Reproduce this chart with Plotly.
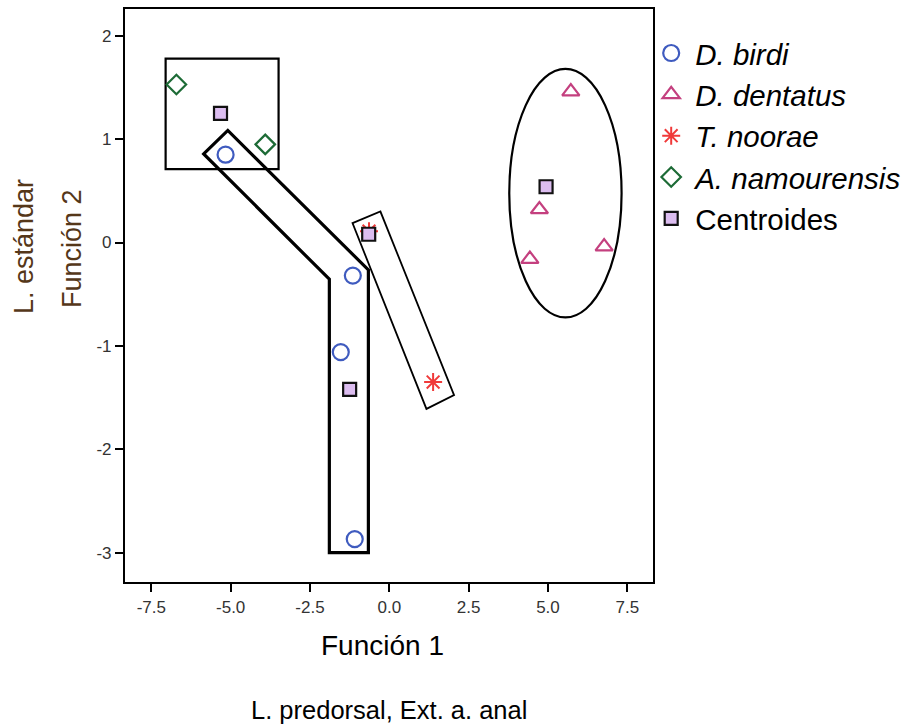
import plotly.graph_objects as go

# Discriminant scores (Función 1, Función 2) per group
birdi_x = [-5.16, -1.15, -1.53, -1.09]
birdi_y = [0.85, -0.32, -1.06, -2.87]

dentatus_x = [5.72, 4.73, 4.43, 6.77]
dentatus_y = [1.46, 0.32, -0.16, -0.04]

noorae_x = [1.38, -0.64]
noorae_y = [-1.35, 0.11]

namourensis_x = [-6.71, -3.91]
namourensis_y = [1.53, 0.95]

centroid_x = [-5.32, -0.65, 4.94, -1.25]
centroid_y = [1.25, 0.08, 0.54, -1.42]

# Outlines grouping the observations
box_x = [-7.05, -3.49]
box_y = [0.71, 1.78]

bent_x = [-5.85, -5.09, -0.66, -0.66, -1.89, -1.89]
bent_y = [0.857, 1.085, -0.265, -3.0, -3.0, -0.355]

strip_x = [-1.16, -0.28, 2.04, 1.17]
strip_y = [0.188, 0.30, -1.476, -1.61]

ellipse_x = [3.78, 7.32]
ellipse_y = [-0.725, 1.68]

x_ticks = [-7.5, -5.0, -2.5, 0.0, 2.5, 5.0, 7.5]
y_ticks = [-3, -2, -1, 0, 1, 2]

FONT = "Liberation Sans, Arial, sans-serif"
TICK_FONT = "Liberation Sans Narrow, Arial Narrow, Liberation Sans, Arial, sans-serif"


def polygon_path(xs, ys):
    pts = [f"{x},{y}" for x, y in zip(xs, ys)]
    return "M " + " L ".join(pts) + " Z"


fig = go.Figure()

fig.add_trace(go.Scatter(
    x=birdi_x, y=birdi_y, mode="markers", name="<i>D. birdi</i>",
    marker=dict(symbol="circle-open", size=16, color="#3f5bbf", line=dict(width=2.2)),
    legendgroup="a",
))
fig.add_trace(go.Scatter(
    x=dentatus_x, y=dentatus_y, mode="markers", name="<i>D. dentatus</i>",
    marker=dict(symbol="triangle-up-open", size=15, color="#c4407f", line=dict(width=2.2)),
    legendgroup="b",
))
fig.add_trace(go.Scatter(
    x=noorae_x, y=noorae_y, mode="markers", name="<i>T. noorae</i>",
    marker=dict(symbol="asterisk-open", size=15, color="#f03a3a", line=dict(width=2, color="#f03a3a")),
    legendgroup="c",
))
fig.add_trace(go.Scatter(
    x=namourensis_x, y=namourensis_y, mode="markers", name="<i>A. namourensis</i>",
    marker=dict(symbol="diamond-open", size=15, color="#1d6b36", line=dict(width=2.2)),
    legendgroup="d",
))
fig.add_trace(go.Scatter(
    x=centroid_x, y=centroid_y, mode="markers", name="Centroides",
    marker=dict(symbol="square", size=13, color="#dcbdf0", line=dict(width=2.2, color="#111111")),
    legendgroup="e",
))

fig.add_shape(type="rect", xref="x", yref="y",
              x0=box_x[0], x1=box_x[1], y0=box_y[0], y1=box_y[1],
              line=dict(color="black", width=2.2), layer="below")
fig.add_shape(type="path", xref="x", yref="y", path=polygon_path(bent_x, bent_y),
              line=dict(color="black", width=3.2), layer="below")
fig.add_shape(type="path", xref="x", yref="y", path=polygon_path(strip_x, strip_y),
              line=dict(color="black", width=1.8), layer="below")
fig.add_shape(type="circle", xref="x", yref="y",
              x0=ellipse_x[0], x1=ellipse_x[1], y0=ellipse_y[0], y1=ellipse_y[1],
              line=dict(color="black", width=2.2), layer="below")

axis_common = dict(
    showgrid=False, zeroline=False, showline=True, linecolor="black", linewidth=2.2,
    mirror=True, ticks="outside", ticklen=8, tickwidth=2.2, tickcolor="black",
    tickfont=dict(family=TICK_FONT, size=17, color="#333333"),
)

fig.update_xaxes(range=[-8.33, 8.31], tickvals=x_ticks,
                 ticktext=[f"{v:.1f}" for v in x_ticks], **axis_common)
fig.update_yaxes(range=[-3.285, 2.26], tickvals=y_ticks,
                 ticktext=[str(v) for v in y_ticks], **axis_common)

title_color = "#553719"
fig.add_annotation(text="Función 1", xref="paper", yref="paper", x=0.487, y=-0.11,
                   xanchor="center", yanchor="middle", showarrow=False,
                   font=dict(family=FONT, size=28, color="black"))
fig.add_annotation(text="L. predorsal, Ext. a. anal", xref="paper", yref="paper", x=0.5, y=-0.223,
                   xanchor="center", yanchor="middle", showarrow=False,
                   font=dict(family=FONT, size=25.5, color="black"))
fig.add_annotation(text="Función 2", xref="paper", yref="paper", x=(72 - 125) / 528, y=(582 - 249) / 573,
                   xanchor="center", yanchor="middle", showarrow=False, textangle=-90,
                   font=dict(family=FONT, size=27, color=title_color))
fig.add_annotation(text="L. estándar", xref="paper", yref="paper", x=(24 - 125) / 528, y=(582 - 247) / 573,
                   xanchor="center", yanchor="middle", showarrow=False, textangle=-90,
                   font=dict(family=FONT, size=27, color=title_color))

fig.update_layout(
    width=902, height=726,
    margin=dict(l=125, r=249, t=9, b=144, autoexpand=False),
    paper_bgcolor="white", plot_bgcolor="white",
    showlegend=True,
    legend=dict(
        x=0.989, y=0.968, xanchor="left", yanchor="top",
        font=dict(family=FONT, size=29.5, color="black"),
        bgcolor="rgba(0,0,0,0)", traceorder="grouped", tracegroupgap=0,
        itemwidth=38,
    ),
)

fig.write_html("out.html")
